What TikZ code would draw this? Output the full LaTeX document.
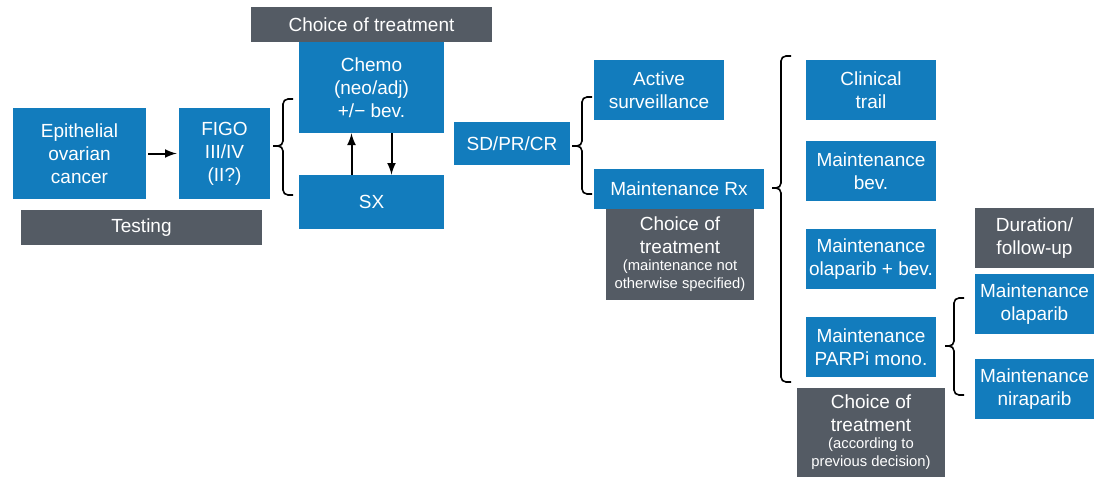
\documentclass[tikz,border=0pt]{standalone}
\usepackage{fontspec}
\setmainfont{Liberation Sans}
\usetikzlibrary{arrows}

\definecolor{boxblue}{RGB}{18,124,189}
\definecolor{boxgray}{RGB}{84,91,100}
\newcommand{\smallfont}{\fontsize{7.4}{9}\selectfont}

\tikzset{
  box/.style={fill=boxblue, text=white, inner sep=0pt, align=center,
    font=\fontsize{9.5}{11.5}\selectfont},
  note/.style={box, fill=boxgray},
  wh/.style 2 args={minimum width=#1*0.5pt, minimum height=#2*0.5pt},
  arr/.style={line width=1pt, -latex},
  brace/.style={line width=0.8pt, rounded corners=2.5pt},
}

\begin{document}
\begin{tikzpicture}[x=0.5pt, y=-0.5pt]
          \useasboundingbox (0,0) rectangle (1094,477);

          % diagnosis
          \node[box, wh={133}{91}] (epi) at (79.5,153.5) {Epithelial\\ovarian\\cancer};
          \node[box, wh={91}{91}] (figo) at (224.5,153.5) {FIGO\\III/IV\\(II?)};
          \node[note, wh={241}{35}] (testing) at (141.5,227.5) {Testing};
          \draw[arr, shorten <=1pt, shorten >=1pt] (epi) -- (figo);

          % first line
          \node[note, wh={241}{35}] (choice1) at (371.5,24.5) {Choice of treatment};
          \node[box, wh={145}{91}] (chemo) at (371.5,87.5) {Chemo\\(neo/adj)\\+/− bev.};
          \node[box, wh={145}{54}] (sx) at (371.5,202) {SX};
          \draw[arr] ([xshift=-10pt]sx.north) -- ([xshift=-10pt]chemo.south);
          \draw[arr] ([xshift=10pt]chemo.south) -- ([xshift=10pt]sx.north);
          \coordinate (br1) at (273,146);
          \draw[brace] (br1) -- ++(10,0) |- ++(10,-47);
          \draw[brace] (br1) -- ++(10,0) |- ++(10,49);

          % response
          \node[box, wh={116}{43}] (resp) at (512,143.5) {SD/PR/CR};
          \node[box, wh={130}{60}] (active) at (659,90) {Active\\surveillance};
          \node[box, wh={170}{40}] (mrx) at (679,189) {Maintenance Rx};
          \node[note, wh={148}{91}] (choice2) at (680,254.5)
            {Choice of\\treatment\\[-3pt]\smallfont(maintenance not\\[-2.5pt]\smallfont otherwise specified)};
          \coordinate (br2) at (572,146);
          \draw[brace] (br2) -- ++(10,0) |- ++(10,-49);
          \draw[brace] (br2) -- ++(10,0) |- ++(10,48);

          % maintenance options
          \node[box, wh={130}{60}] (trial) at (871,90) {Clinical\\trail};
          \node[box, wh={130}{60}] (mbev) at (871,171) {Maintenance\\bev.};
          \node[box, wh={130}{60}] (molabev) at (871,259) {Maintenance\\olaparib + bev.};
          \node[box, wh={130}{60}] (mparp) at (871,347) {Maintenance\\PARPi mono.};
          \node[note, wh={148}{89}] (choice3) at (871,432.5)
            {Choice of\\treatment\\[-3pt]\smallfont(according to\\[-2.5pt]\smallfont previous decision)};
          \coordinate (br3) at (772,188);
          \draw[brace] (br3) -- ++(9,0) |- ++(10,-132);
          \draw[brace] (br3) -- ++(9,0) |- ++(10,194);

          % PARPi mono
          \node[note, wh={119}{60}] (dur) at (1034.5,238) {Duration/\\follow-up};
          \node[box, wh={119}{60}] (mola) at (1034.5,304) {Maintenance\\olaparib};
          \node[box, wh={119}{60}] (mnira) at (1034.5,389) {Maintenance\\niraparib};
          \coordinate (br4) at (945,346);
          \draw[brace] (br4) -- ++(9,0) |- ++(10,-48);
          \draw[brace] (br4) -- ++(9,0) |- ++(10,49);
\end{tikzpicture}
\end{document}
